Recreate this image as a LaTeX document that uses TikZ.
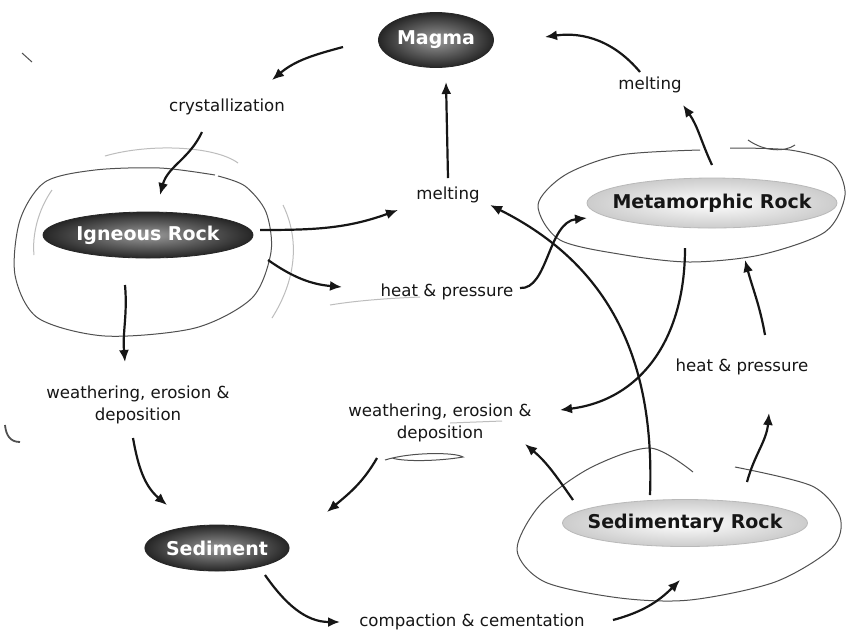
\documentclass[tikz,border=0pt]{standalone}
\usepackage{fontspec}
\setmainfont{DejaVu Sans}
\usepackage{tikz}
\usetikzlibrary{arrows.meta, shapes.geometric, calc}
\definecolor{RockDark}{HTML}{262626}
\definecolor{RockMid}{HTML}{9A9A9A}
\definecolor{InkBlack}{HTML}{161616}
\definecolor{SketchGrey}{HTML}{505050}
\definecolor{FaintGrey}{HTML}{BDBDBD}

\begin{document}
\begin{tikzpicture}[x=0.5pt, y=-0.5pt, >={Latex[length=6pt,width=5pt]},
    every node/.style={font=\fontsize{8.3}{11}\selectfont, align=center, text=InkBlack},
    darkrock/.style={ellipse, inner sep=0pt, draw=RockDark, inner color=RockMid, outer color=RockDark, text=white, font=\fontsize{9.5}{11}\selectfont\bfseries},
    lightrock/.style={ellipse, inner xsep=-8pt, inner ysep=0pt, draw=gray!55, inner color=white, outer color=gray!40, font=\fontsize{9.5}{11}\selectfont\bfseries},
    flow/.style={->, line width=1.1pt, InkBlack},
    sketch/.style={SketchGrey, line width=0.5pt},
    faint/.style={FaintGrey, line width=0.5pt}]
  \fill[white] (0,0) rectangle (855,634);
  \useasboundingbox (0,0) rectangle (855,634);

  % hand drawn rings
  \draw[sketch] plot[smooth] coordinates {(215,175) (160,168) (95,170) (45,182) (20,220) (15,275) (38,318) (105,336) (195,328) (252,298) (271,252) (266,212) (245,186) (218,176)};
  \draw[faint] (105,156) .. controls (150,143) and (215,146) .. (238,163);
  \draw[faint] (283,205) .. controls (300,240) and (296,280) .. (272,318);
  \draw[faint] (52,190) .. controls (38,210) and (32,235) .. (34,255);
  \draw[sketch] plot[smooth] coordinates {(700,150) (620,155) (565,175) (538,205) (560,240) (625,255) (690,262) (760,255) (825,232) (845,195) (832,163) (790,150) (730,148)};
  \draw[sketch] (748,140) .. controls (765,152) and (785,152) .. (795,145);
  \draw[sketch] plot[smooth] coordinates {(693,472) (650,448) (590,468) (540,505) (517,550) (545,582) (620,598) (690,600) (775,582) (832,548) (840,517) (812,486) (735,467)};
  \draw[faint] (330,305) .. controls (360,300) and (395,298) .. (420,297);
  \draw[faint] (450,423) -- (502,421);
  \draw[sketch] (385,460) .. controls (410,452) and (455,452) .. (463,457) .. controls (440,461) and (405,462) .. (392,458);
  \draw[sketch] (22,53) -- (32,62);
  \draw[sketch, line width=0.9pt] (5,425) .. controls (6,435) and (10,442) .. (20,442);

  % rocks
  \node (magma) [darkrock, minimum width=57.5pt, minimum height=27.5pt] at (436,40) {Magma};
  \node (igneous) [darkrock, minimum width=105pt, minimum height=23pt] at (148,235) {Igneous Rock};
  \node (sediment) [darkrock, minimum width=62.5pt, minimum height=23pt] at (217,548) {Sediment};
  \node (meta) [lightrock, minimum width=125pt, minimum height=25pt] at (712,203) {Metamorphic Rock};
  \node (sedrock) [lightrock, minimum width=122.5pt, minimum height=23.5pt] at (685,523) {Sedimentary Rock};

  % processes
  \node (crys) at (227,107) {crystallization};
  \node (meltC) at (448,195) {melting};
  \node (heatC) at (447,292) {heat \& pressure};
  \node (meltR) at (650,85) {melting};
  \node (heatR) at (742,367) {heat \& pressure};
  \node (weatherM) at (440,423) {weathering, erosion \&\\deposition};
  \node (weatherL) at (138,405) {weathering, erosion \&\\deposition};
  \node (compact) at (472,622) {compaction \& cementation};

  \draw[flow] ($(magma)+(-93,7)$) to[out=195, in=40] ($(crys)+(45,-27)$);
  \draw[flow] ($(crys)+(-25,25)$) to[out=245, in=75] ($(igneous)+(12,-40)$);
  \draw[flow] ($(igneous)+(112,-5)$) to[out=0, in=200] ($(meltC)+(-50,15)$);
  \draw[flow] ($(igneous)+(120,25)$) to[out=-35, in=175] ($(heatC)+(-105,-5)$);
  \draw[flow] ($(meltC)+(0,-17)$) -- ($(magma)+(10,42)$);
  \draw[flow] ($(heatC)+(73,-4)$) .. controls ($(heatC)+(101,-2)$) and ($(heatC)+(101,-70)$) .. ($(meta)+(-125,15)$);
  \draw[flow] ($(meta)+(0,-38)$) to[out=115, in=-55] ($(meltR)+(33,20)$);
  \draw[flow] ($(meltR)+(-10,-13)$) to[out=130, in=8] ($(magma)+(109,-3)$);
  \draw[flow] ($(meta)+(-27,45)$) .. controls ($(meta)+(-27,137)$) and ($(meta)+(-72,197)$) .. ($(weatherM)+(120,-13)$);
  \draw[flow] ($(heatR)+(23,-32)$) to[out=100, in=-75] ($(meta)+(33,57)$);
  \draw[flow] ($(sedrock)+(62,-41)$) to[out=75, in=-95] ($(heatR)+(27,46)$);
  \draw[flow] ($(sedrock)+(-112,-23)$) to[out=125, in=-40] ($(weatherM)+(85,21)$);
  \draw[flow] ($(sedrock)+(-35,-28)$) .. controls ($(sedrock)+(-30,-163)$) and ($(sedrock)+(-75,-258)$) .. ($(meltC)+(42,10)$);
  \draw[flow] ($(igneous)+(-23,50)$) to[out=-85, in=95] ($(weatherL)+(-13,-43)$);
  \draw[flow] ($(weatherL)+(-5,33)$) to[out=-80, in=140] ($(sediment)+(-50,-43)$);
  \draw[flow] ($(weatherM)+(-63,35)$) to[out=-120, in=40] ($(sediment)+(110,-36)$);
  \draw[flow] ($(sediment)+(48,27)$) to[out=-55, in=180] ($(compact)+(-132,0)$);
  \draw[flow] ($(compact)+(141,-2)$) to[out=15, in=-135] ($(sedrock)+(-5,57)$);
\end{tikzpicture}
\end{document}
